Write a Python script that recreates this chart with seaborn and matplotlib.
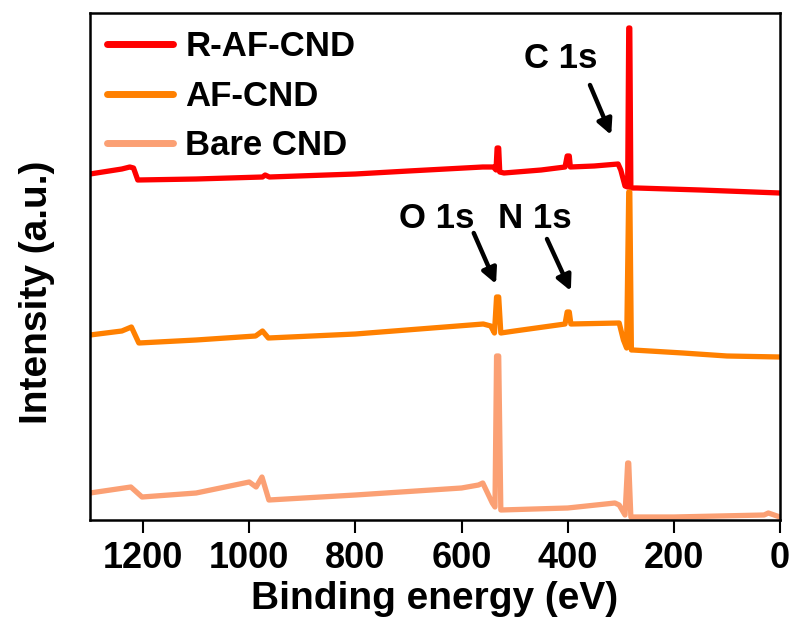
import matplotlib
matplotlib.use("Agg")
import matplotlib.pyplot as plt
import seaborn as sns
import pandas as pd

# ---------------- data (binding energy in eV, intensity in a.u., stacked) ----------------
series_names = ["R-AF-CND", "AF-CND", "Bare CND"]
series_colors = ["#FF0000", "#FF8000", "#FBA074"]

r_af_energy = [1300, 1240, 1225, 1218, 1210, 1100, 975, 970, 962, 800, 700, 560, 540, 535,
               533, 530, 528, 520, 450, 405, 401, 397, 395, 350, 305, 300, 292, 287,
               285, 283, 281, 270, 150, 0]
r_af_inten = [346, 351, 353, 352, 340, 341, 343, 345, 343, 346, 349, 353, 353, 350,
              372, 372, 348, 347, 350, 353, 364, 364, 353, 354, 356, 350, 334, 333,
              492, 492, 332, 332, 330, 327]

af_energy = [1300, 1240, 1222, 1208, 1100, 988, 975, 964, 800, 559, 545, 538,
             534, 530, 526, 500, 405, 401, 397, 394, 303, 295, 289,
             285, 283, 280, 277, 183, 100, 0]
af_inten = [185, 189, 193, 177, 180, 184, 189, 182, 186, 196, 194, 187,
            223, 223, 187, 189, 196, 208, 208, 196, 197, 180, 172,
            328, 328, 170, 170, 167, 164, 163]

bare_energy = [1300, 1223, 1202, 1100, 1000, 987, 976, 963, 800, 600, 568, 560, 542, 537,
               534, 530, 526, 400, 311, 303, 292, 287, 285, 281, 200, 30, 22, 0]
bare_inten = [27, 33, 23, 27, 38, 33, 43, 20, 25, 32, 35, 37, 17, 13,
              164, 164, 10, 12, 17, 15, 5, 57, 57, 3, 3, 5, 7, 3]

x_ticks = [1200, 1000, 800, 600, 400, 200, 0]

# peak annotations: label, text position, arrow start, arrow tip (eV, a.u.)
ann_labels = ["C 1s", "O 1s", "N 1s"]
ann_text_xy = [(413, 462), (646, 302), (462, 302)]
ann_arrow_from = [(358, 435), (577, 287), (439, 281)]
ann_arrow_to = [(318, 385), (535, 236), (394, 229)]

# ---------------- build table ----------------
frames = []
for name, e, v in zip(series_names,
                      [r_af_energy, af_energy, bare_energy],
                      [r_af_inten, af_inten, bare_inten]):
    frames.append(pd.DataFrame({"Binding energy (eV)": e, "Intensity": v, "Sample": name}))
df = pd.concat(frames, ignore_index=True)

sns.set_style("ticks")
plt.rcParams["font.family"] = ["Liberation Sans", "DejaVu Sans"]
plt.rcParams["font.weight"] = "bold"
plt.rcParams["text.color"] = "black"
plt.rcParams["axes.labelcolor"] = "black"
plt.rcParams["xtick.color"] = "black"
plt.rcParams["ytick.color"] = "black"

fig = plt.figure(figsize=(7.95, 6.26), dpi=100)
ax = fig.add_axes([90 / 795, 106 / 626, 690 / 795, 507 / 626])

sns.lineplot(data=df, x="Binding energy (eV)", y="Intensity", hue="Sample",
             hue_order=series_names, palette=series_colors, sort=False,
             estimator=None, linewidth=3.8, ax=ax, legend=True)
for ln in ax.get_lines():
    ln.set_solid_joinstyle("round")
    ln.set_solid_capstyle("round")

ax.set_xlim(1300, 0)
ax.set_ylim(0, 507)
ax.set_xticks(x_ticks)
ax.set_xticklabels([str(t) for t in x_ticks], fontsize=26, fontweight="bold",
                   color="black")
ax.set_yticks([])
ax.tick_params(axis="x", direction="out", length=9, width=1.5, pad=6, colors="black")
for sp in ax.spines.values():
    sp.set_visible(True)
    sp.set_linewidth(1.8)
    sp.set_color("black")

ax.set_xlabel("Binding energy (eV)", fontsize=28, fontweight="bold", labelpad=4,
              color="black")
ax.set_ylabel("Intensity (a.u.)", fontsize=28, fontweight="bold", color="black")
ax.yaxis.set_label_coords(-0.05, 0.45)

leg = ax.legend(loc="upper left", bbox_to_anchor=(0.0, 1.0), frameon=False,
                fontsize=25, handlelength=1.9, handletextpad=0.35,
                labelspacing=0.47, borderpad=0.2, borderaxespad=0.3)
for h in leg.get_lines():
    h.set_linewidth(5)
    h.set_solid_capstyle("round")
for t in leg.get_texts():
    t.set_fontweight("bold")
    t.set_color("black")

for lab, txy, a0, a1 in zip(ann_labels, ann_text_xy, ann_arrow_from, ann_arrow_to):
    ax.text(txy[0], txy[1], lab, fontsize=25, fontweight="bold",
            ha="center", va="center", color="black")
    ax.annotate("", xy=a1, xytext=a0,
                arrowprops=dict(arrowstyle="-|>,head_length=0.9,head_width=0.45",
                                color="black", lw=3.2, shrinkA=0, shrinkB=0))

fig.savefig("out.png", dpi=100)
